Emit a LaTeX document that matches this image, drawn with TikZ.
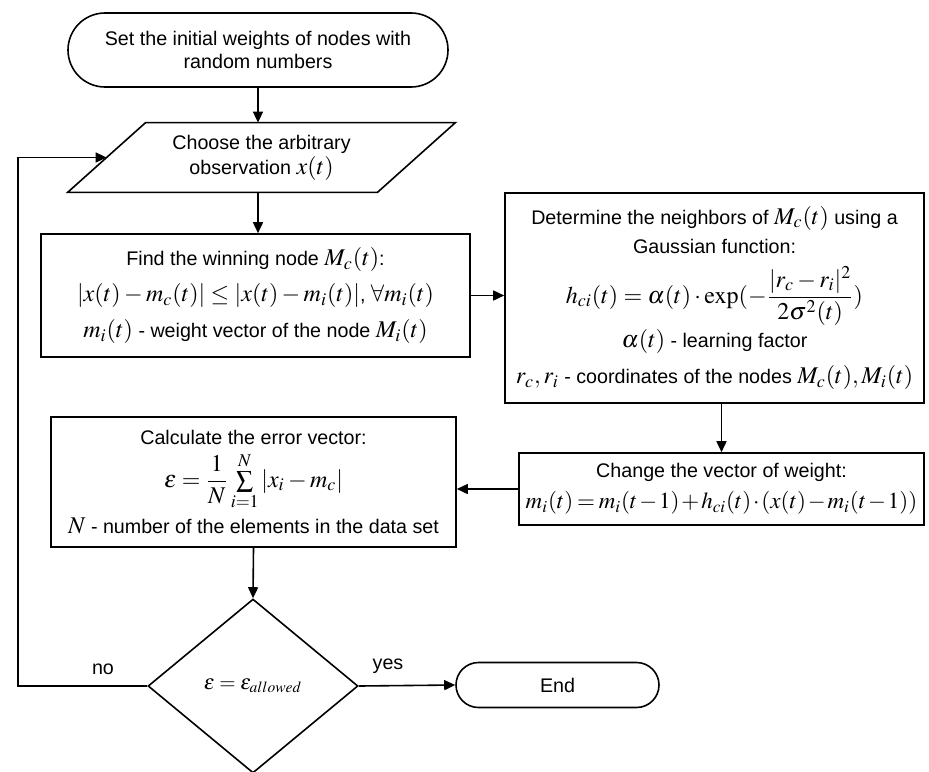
\documentclass[tikz,border=0pt]{standalone}
\usepackage{amsmath}
\usepackage{mathptmx}
\usepackage[no-math]{fontspec}
\setmainfont{Liberation Sans}[Scale=0.82]
\usetikzlibrary{arrows.meta,shapes.misc,shapes.geometric}
\tikzset{
  box/.style={draw,line width=0.8pt,rectangle,inner sep=0pt,align=center},
  term/.style={draw,line width=0.8pt,rounded rectangle,inner sep=0pt,align=center},
  dec/.style={draw,line width=0.8pt,diamond,inner sep=0pt,align=center},
  conn/.style={line width=0.8pt,-{Triangle[length=5.5pt,width=5pt]}},
  lbl/.style={inner sep=0pt}
}
\begin{document}
\begin{tikzpicture}[x=0.5pt,y=-0.5pt,font=\fontsize{12}{11.5}\selectfont]
\useasboundingbox (0,0) rectangle (929,771);
\node[term,minimum width=190pt,minimum height=37pt] (start) at (258,50)
  {Set the initial weights of nodes with\\random numbers};
\node[inner sep=0pt,minimum width=193.5pt,minimum height=34.5pt,align=center] (choose) at (261.5,157.5)
  {Choose the arbitrary\\[1pt]observation $x(t)$};
\draw[line width=0.8pt] ([xshift=39pt]choose.north west) -- (choose.north east)
  -- ([xshift=-39pt]choose.south east) -- (choose.south west) -- cycle;
\node[box,minimum width=214.5pt,minimum height=61.5pt] (find) at (255.5,295.5)
  {Find the winning node $M_c(t)$:\\[5pt]
   $|x(t)-m_c(t)|\le|x(t)-m_i(t)|$, $\forall m_i(t)$\\[5pt]
   $m_i(t)$ - weight vector of the node $M_i(t)$};
\node[box,minimum width=209.5pt,minimum height=105pt] (det) at (714.5,298)
  {Determine the neighbors of $M_c(t)$ using a\\[3pt]
   Gaussian function:\\[5.5pt]
   $h_{ci}(t)=\alpha(t)\cdot\exp(-\dfrac{|r_c-r_i|^2}{2\sigma^2(t)})$\\[1pt]
   $\alpha(t)$ - learning factor\\[5pt]
   $r_c,r_i$ - coordinates of the nodes $M_c(t), M_i(t)$};
\node[box,minimum width=202.5pt,minimum height=36pt] (change) at (721.5,489)
  {Change the vector of weight:\\[4pt]
   {\fontsize{11.5}{11}\selectfont$\medmuskip=1.5mu\thickmuskip=3mu m_i(t)=m_i(t-1)+h_{ci}(t)\cdot(x(t)-m_i(t-1))$}};
\node[box,minimum width=202.5pt,minimum height=65pt] (calc) at (253.5,482)
  {Calculate the error vector:\\[3pt]
   $\varepsilon=\dfrac{1}{N}\sum\limits_{i=1}^{N}|x_i-m_c|$\\[3pt]
   $N$ - number of the elements in the data set};
\node[dec,minimum width=105pt,minimum height=87pt,font=\fontsize{10.5}{11}\selectfont] (dcs) at (253,686)
  {$\varepsilon=\varepsilon_{allowed}$};
\node[term,minimum width=101.5pt,minimum height=22.5pt] (end) at (557.5,685) {End};
\coordinate (lx) at (18,157.5);
\node[lbl] (nolbl) at (103,669) {no};
\node[lbl] (yeslbl) at (388,666) {yes};
\draw[conn] (start.south) -- (start.south |- choose.north);
\draw[conn] (choose.south -| start.south) -- (find.north -| start.south);
\draw[conn] (find.east) -- (det.west |- find.east);
\draw[conn] (change.north |- det.south) -- (change.north);
\draw[conn] (change.west) -- (calc.east |- change.west);
\draw[conn] (calc.south) -- (dcs.north);
\draw[conn] (dcs.east) -- (end.west);
\draw[conn] (dcs.west) -| (lx) -- ([xshift=19.5pt]choose.west);
\end{tikzpicture}
\end{document}
